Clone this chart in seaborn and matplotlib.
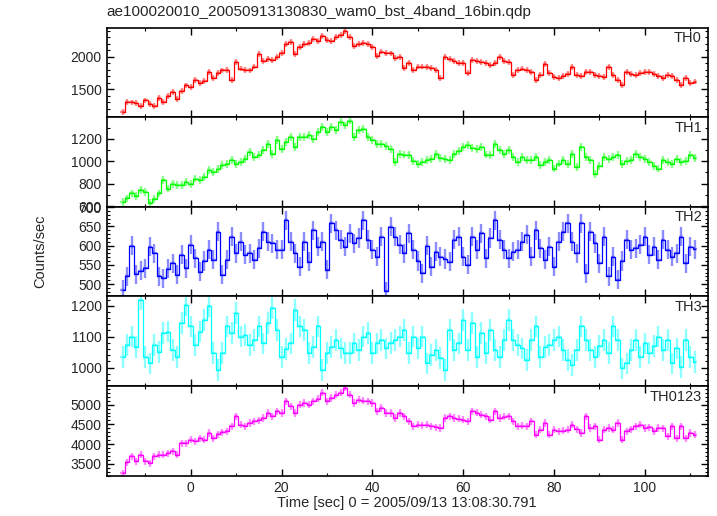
import numpy as np
import pandas as pd
import matplotlib
matplotlib.use("Agg")
import matplotlib.pyplot as plt
from matplotlib.ticker import MultipleLocator
import seaborn as sns

# light curve bins, 1 s wide, centred on integer seconds
time = np.arange(-15, 112)

th0 = [1150, 1310, 1300, 1290, 1240, 1330, 1280, 1250, 1370, 1310,
       1400, 1460, 1350, 1480, 1560, 1540, 1640, 1600, 1630, 1760,
       1680, 1750, 1790, 1800, 1650, 1920, 1820, 1800, 1790, 1850,
       2040, 1930, 1970, 1950, 2000, 2060, 2200, 2230, 2040, 2150,
       2200, 2210, 2270, 2240, 2320, 2260, 2240, 2300, 2330, 2400,
       2300, 2160, 2200, 2210, 2200, 2150, 2010, 2080, 2060, 2050,
       1980, 1990, 1830, 1900, 1800, 1850, 1850, 1840, 1830, 1800,
       1680, 2000, 1970, 1930, 1910, 1900, 1750, 1950, 1930, 1920,
       1900, 1880, 1900, 1990, 1930, 1920, 1720, 1800, 1820, 1800,
       1760, 1650, 1720, 1890, 1750, 1690, 1670, 1700, 1740, 1840,
       1720, 1700, 1770, 1760, 1720, 1700, 1690, 1840, 1720, 1650,
       1570, 1770, 1740, 1720, 1750, 1760, 1770, 1740, 1700, 1670,
       1720, 1710, 1640, 1570, 1670, 1600, 1620]

th1 = [640, 668, 713, 690, 742, 727, 630, 660, 713, 831,
       757, 801, 790, 787, 816, 801, 846, 831, 861, 920,
       905, 930, 964, 979, 1009, 979, 994, 1024, 1083, 1039,
       1060, 1098, 1157, 1068, 1187, 1113, 1172, 1216, 1127, 1216,
       1220, 1231, 1201, 1260, 1305, 1261, 1305, 1276, 1350, 1320,
       1364, 1216, 1276, 1290, 1216, 1187, 1157, 1157, 1140, 1113,
       990, 1068, 1060, 1053, 1000, 979, 994, 1010, 1024, 1068,
       1030, 1024, 1009, 1068, 1090, 1127, 1142, 1120, 1113, 1127,
       1060, 1053, 1157, 1100, 1068, 1098, 1040, 994, 1039, 1015,
       1009, 1039, 964, 990, 1009, 935, 980, 1009, 979, 1068,
       950, 1127, 1040, 1009, 890, 960, 1039, 1024, 1040, 1053,
       979, 1000, 1009, 1068, 1040, 1024, 994, 960, 935, 1009,
       990, 979, 1024, 994, 1000, 1053, 1030]

th2 = [485, 520, 600, 525, 535, 541, 597, 580, 520, 515,
       540, 554, 524, 576, 541, 602, 567, 532, 560, 589,
       563, 636, 524, 563, 623, 580, 610, 576, 580, 563,
       593, 636, 610, 606, 589, 589, 666, 610, 580, 545,
       610, 558, 640, 597, 610, 537, 658, 640, 615, 597,
       632, 606, 620, 666, 615, 589, 571, 623, 481, 649,
       623, 602, 580, 632, 589, 560, 528, 600, 545, 584,
       571, 565, 558, 615, 623, 571, 550, 623, 589, 632,
       567, 620, 666, 615, 589, 567, 584, 589, 610, 628,
       571, 640, 593, 563, 597, 545, 610, 636, 658, 610,
       580, 658, 528, 636, 606, 554, 623, 520, 571, 511,
       560, 615, 589, 593, 602, 623, 576, 597, 563, 615,
       589, 571, 580, 623, 554, 597, 590]

th3 = [1035, 1073, 1100, 1067, 1220, 1035, 1013, 1073, 1051, 1111,
       1116, 1057, 1035, 1143, 1203, 1133, 1073, 1116, 1154, 1198,
       1046, 991, 1046, 1133, 1111, 1176, 1100, 1105, 1073, 1089,
       1133, 1078, 1143, 1192, 1122, 1035, 1060, 1078, 1187, 1133,
       1122, 1046, 1067, 1133, 991, 1046, 1067, 1089, 1062, 1046,
       1046, 1078, 1057, 1100, 1111, 1046, 1078, 1089, 1062, 1080,
       1089, 1100, 1122, 1046, 1100, 1062, 1100, 1013, 1040, 1057,
       1030, 991, 1122, 1057, 1078, 1154, 1057, 1143, 1035, 1111,
       1046, 1122, 1057, 1035, 1090, 1154, 1089, 1073, 1062, 1024,
       1089, 1133, 1035, 1067, 1073, 1090, 1100, 1057, 1024, 1008,
       1057, 1133, 1089, 1057, 1035, 1070, 1089, 1046, 1133, 1089,
       997, 1013, 1057, 1089, 1035, 1078, 1046, 1070, 1100, 1057,
       1089, 1013, 1062, 1002, 1089, 1035, 1018]

th0123 = [3264, 3540, 3687, 3560, 3730, 3560, 3518, 3687, 3730, 3730,
          3770, 3814, 3730, 4026, 4026, 4111, 4068, 4153, 4111, 4280,
          4153, 4250, 4300, 4322, 4449, 4704, 4492, 4449, 4534, 4576,
          4600, 4661, 4788, 4704, 4831, 4788, 5085, 4958, 4788, 5000,
          5042, 5000, 5085, 5150, 5296, 5085, 5169, 5254, 5296, 5424,
          5254, 5042, 5127, 5100, 5085, 5042, 4831, 4915, 4788, 4788,
          4661, 4788, 4704, 4576, 4449, 4492, 4480, 4492, 4449, 4430,
          4407, 4661, 4704, 4661, 4640, 4619, 4576, 4831, 4790, 4746,
          4704, 4619, 4831, 4661, 4690, 4704, 4576, 4449, 4460, 4449,
          4576, 4238, 4365, 4534, 4238, 4365, 4322, 4340, 4365, 4492,
          4380, 4280, 4704, 4407, 4449, 4111, 4365, 4407, 4365, 4534,
          4111, 4322, 4380, 4449, 4492, 4407, 4430, 4322, 4407, 4400,
          4195, 4449, 4153, 4449, 4153, 4280, 4238]

bands = ["TH0", "TH1", "TH2", "TH3", "TH0123"]
band_err = [45, 35, 25, 35, 90]          # typical 1-sigma error per bin
band_ylim = [(1075, 2448), (594, 1394), (468, 701), (940, 1230), (3200, 5470)]
band_major = [500, 200, 50, 100, 500]
band_minor = [100, 100, 10, 20, 100]
band_color = ["#ff0000", "#00ff00", "#0000ff", "#00ffff", "#ff00ff"]

sns.set_theme(style="ticks")
plt.rcParams["font.family"] = ["Liberation Sans", "DejaVu Sans"]
plt.rcParams["xtick.direction"] = "in"
plt.rcParams["ytick.direction"] = "in"

fig, axes = plt.subplots(5, 1, sharex=True, figsize=(7.17, 5.16), dpi=100,
                         gridspec_kw={"hspace": 0})
fig.subplots_adjust(left=0.1488, right=0.9874, top=0.9467, bottom=0.0781)

for i, ax in enumerate(axes):
    vals = [th0, th1, th2, th3, th0123][i]
    df = pd.DataFrame({"time": time[:len(vals)], "rate": vals})
    col = band_color[i]

    # qdp style: error bars + step line
    ax.errorbar(df["time"], df["rate"], yerr=band_err[i], xerr=0.5, fmt="none",
                ecolor=col, elinewidth=1.7, alpha=0.45)
    sns.lineplot(data=df, x="time", y="rate", ax=ax, color=col, lw=0.9,
                 drawstyle="steps-mid")

    ax.set_xlim(-18.5, 113.9)
    ax.set_ylim(*band_ylim[i])
    ax.yaxis.set_major_locator(MultipleLocator(band_major[i]))
    ax.yaxis.set_minor_locator(MultipleLocator(band_minor[i]))
    ax.xaxis.set_major_locator(MultipleLocator(20))
    ax.xaxis.set_minor_locator(MultipleLocator(10))
    ax.tick_params(which="both", top=True, right=True, labelsize=10, color="black")
    ax.tick_params(which="major", length=5, width=1.0)
    ax.tick_params(which="minor", length=2.5, width=0.8)
    for sp in ax.spines.values():
        sp.set_linewidth(1.2)
        sp.set_color("black")
    ax.set_xlabel("")
    ax.set_ylabel("")
    ax.text(0.99, 0.96, bands[i], transform=ax.transAxes, ha="right", va="top",
            fontsize=10.5)

fig.text(0.1488, 0.977, "ae100020010_20050913130830_wam0_bst_4band_16bin.qdp",
         ha="left", va="center", fontsize=11)
fig.text(0.056, 0.5124, "Counts/sec", rotation=90, ha="center", va="center",
         fontsize=10.5)
fig.text(0.568, 0.025, "Time [sec] 0 = 2005/09/13 13:08:30.791", ha="center",
         va="center", fontsize=10.5)

plt.savefig("out.png", dpi=100)
plt.close()
